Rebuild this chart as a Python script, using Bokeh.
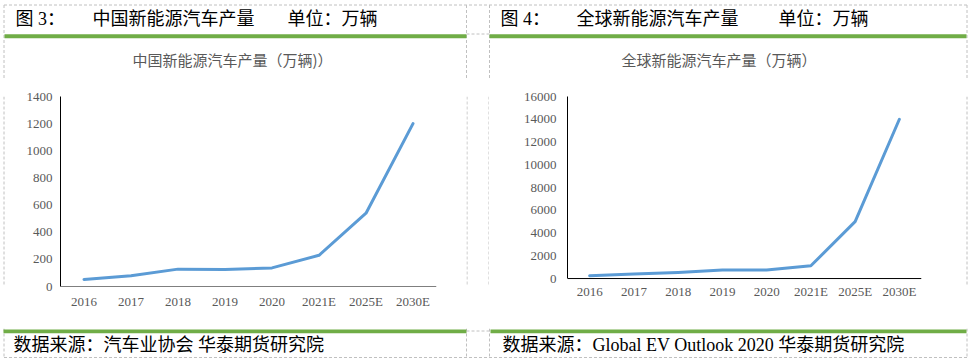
from bokeh.plotting import figure
from bokeh.models import Range1d, FactorRange, FixedTicker, Span
from bokeh.layouts import column, row
from bokeh.core.properties import value
from bokeh.embed import file_html
from bokeh.resources import INLINE

# ---------------- data ----------------
categories = ["2016", "2017", "2018", "2019", "2020", "2021E", "2025E", "2030E"]
china_output = [52, 80, 128, 125, 137, 230, 540, 1200]
world_output = [240, 390, 530, 740, 760, 1120, 5000, 14000]
china_yticks = [0, 200, 400, 600, 800, 1000, 1200, 1400]
world_yticks = [0, 2000, 4000, 6000, 8000, 10000, 12000, 14000, 16000]

left_fig_label = "图  3："
left_heading = "中国新能源汽车产量"
right_fig_label = "图  4："
right_heading = "全球新能源汽车产量"
unit_text = "单位：万辆"
left_chart_title = "中国新能源汽车产量（万辆)）"
right_chart_title = "全球新能源汽车产量（万辆）"
left_source = "数据来源：汽车业协会 华泰期货研究院"
right_source = "数据来源：Global EV Outlook 2020  华泰期货研究院"

# ---------------- styles ----------------
GREEN = "#70AD47"
DASH = "#C0C0C0"
LINE = "#5B9BD5"
LABEL = "#595959"
HEAD_FONT = value("Liberation Serif, Noto Sans CJK SC")
SANS = value("Noto Sans CJK SC")
SERIF = "Liberation Serif"

W = 968
HEAD_H = 80
CHART_H = 248
FOOT_H = 32
X_L = 3.5       # outer left border
X_R = 966.5     # outer right border
X_GAP_L = 466
X_GAP_R = 489
EDGE = 8


def blank(w, h):
    p = figure(width=w, height=h, x_range=Range1d(0, w), y_range=Range1d(h, 0),
               output_backend="svg", toolbar_location=None, min_border=0,
               x_axis_location=None, y_axis_location=None)
    p.grid.visible = False
    p.outline_line_color = None
    p.background_fill_color = "white"
    p.border_fill_color = "white"
    return p


def dashed(p, xs, ys):
    p.line(xs, ys, line_color=DASH, line_width=1, line_dash="3 2")


# ---------------- header ----------------
head = blank(W, HEAD_H)
dashed(head, [X_L, X_R], [4.5, 4.5])
for xv in [X_L, X_GAP_L, X_GAP_R, X_R]:
    dashed(head, [xv, xv], [4.5, HEAD_H])
head.quad(left=[4, X_GAP_R], right=[X_GAP_L, 966], top=[33.7, 33.7], bottom=[37.7, 37.7],
          fill_color=GREEN, line_color=None)
dashed(head, [X_GAP_L, X_GAP_R], [33.5, 33.5])
head.text(x=[15, 92, 287, 500, 576, 778], y=[18.5] * 6,
          text=[left_fig_label, left_heading, unit_text,
                right_fig_label, right_heading, unit_text],
          text_font=HEAD_FONT, text_font_size="18px", text_color="black",
          text_baseline="middle", text_align="left")
head.text(x=[232, 718.5], y=[59, 59], text=[left_chart_title, right_chart_title],
          text_font=SANS, text_font_size="15px", text_color=LABEL,
          text_baseline="middle", text_align="center")


# ---------------- charts ----------------
# both frames span the same screen rows (layout aligns them); the right chart's
# zero sits a little above its frame bottom, as in the original.
def chart(w, cats, vals, ticks, ymin, ymax, bl, br, xstand, ystand):
    p = figure(width=w, height=CHART_H, x_range=FactorRange(*cats, range_padding=0),
               y_range=Range1d(ymin, ymax), output_backend="svg", toolbar_location=None,
               min_border_left=bl, min_border_right=br, min_border_top=16,
               min_border_bottom=42)
    p.line(x=cats, y=vals, line_color=LINE, line_width=3, line_join="round", line_cap="round")
    p.grid.visible = False
    p.outline_line_color = None
    p.background_fill_color = "white"
    p.border_fill_color = "white"
    p.yaxis.ticker = FixedTicker(ticks=ticks)
    for ax in [p.xaxis[0], p.yaxis[0]]:
        ax.axis_line_color = "black"
        ax.axis_line_width = 1
        ax.major_tick_line_color = None
        ax.minor_tick_line_color = None
        ax.major_tick_out = 0
        ax.major_tick_in = 0
        ax.major_label_text_font = SERIF
        ax.major_label_text_font_size = "13px"
        ax.major_label_text_color = LABEL
    p.yaxis[0].bounds = (0, ymax)
    p.xaxis[0].axis_line_color = None
    p.add_layout(Span(location=0, dimension="width", line_color="black", line_width=1))
    p.xaxis[0].major_label_standoff = xstand
    p.yaxis[0].major_label_standoff = ystand
    return p


left_w = X_GAP_L - EDGE                 # 458
right_w = (W - EDGE) - X_GAP_R          # 471
left_chart = chart(left_w, categories, china_output, china_yticks, 0, 1400,
                   60 - EDGE, left_w - (60 - EDGE) - 376, 7, 8)
right_chart = chart(right_w, categories, world_output, world_yticks, -700, 16000,
                    567 - X_GAP_R, right_w - (567 - X_GAP_R) - 354, -3, 11)

edge_l = blank(EDGE, CHART_H)
dashed(edge_l, [X_L, X_L], [0, CHART_H])
edge_r = blank(EDGE, CHART_H)
dashed(edge_r, [X_R - (W - EDGE)] * 2, [0, CHART_H])
gap = blank(X_GAP_R - X_GAP_L, CHART_H)
dashed(gap, [0.5, 0.5], [0, CHART_H])
dashed(gap, [X_GAP_R - X_GAP_L - 0.5] * 2, [0, CHART_H])

# ---------------- footer ----------------
foot = blank(W, FOOT_H)
for xv in [X_L, X_GAP_L, X_GAP_R, X_R]:
    dashed(foot, [xv, xv], [0, 29])
foot.quad(left=[3, X_GAP_R + 1], right=[X_GAP_L, 966], top=[1, 1], bottom=[4.7, 4.7],
          fill_color=GREEN, line_color=None)
dashed(foot, [X_GAP_L, X_GAP_R], [2.5, 2.5])
dashed(foot, [X_L, X_R], [29, 29])
foot.text(x=[13, 502], y=[16.5, 16.5], text=[left_source, right_source],
          text_font=HEAD_FONT, text_font_size="18px", text_color="black",
          text_baseline="middle", text_align="left")

layout = column(head, row(edge_l, left_chart, gap, right_chart, edge_r, spacing=0), foot,
                spacing=0)

open("out.html", "w").write(file_html(layout, INLINE))
